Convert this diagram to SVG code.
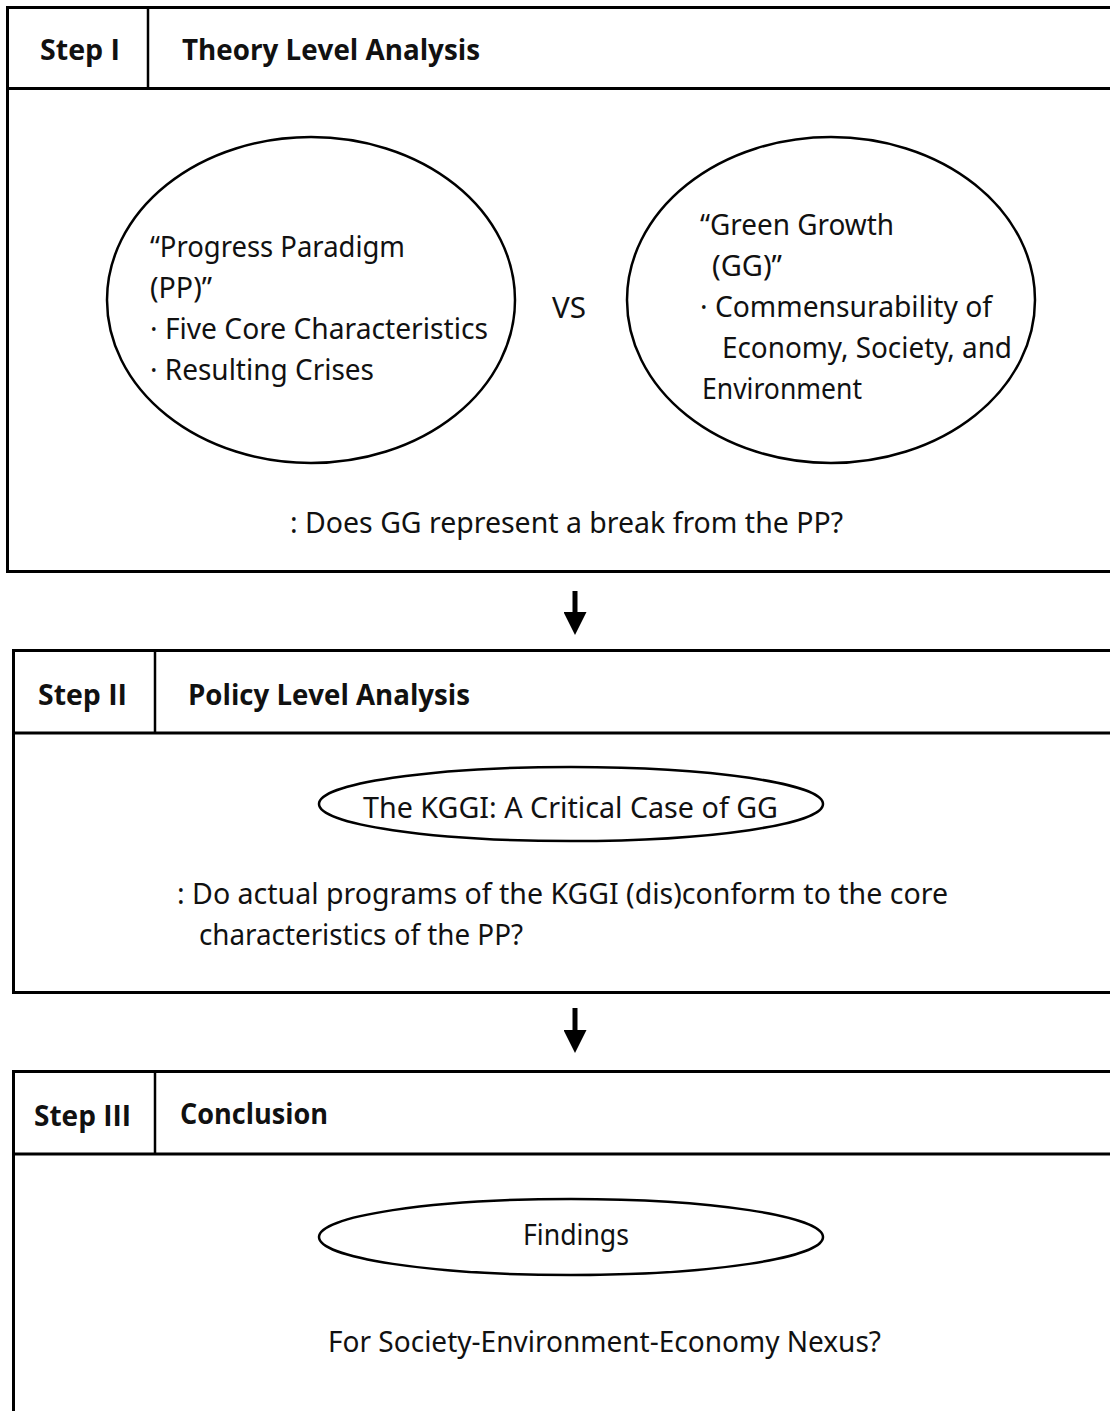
<svg xmlns="http://www.w3.org/2000/svg" width="1110" height="1411" viewBox="0 0 1110 1411">
  <style>
    .frame { fill: none; stroke: #000; stroke-width: 3; }
    .rule { stroke: #000; stroke-width: 3; }
    .sep { stroke: #000; stroke-width: 2.5; }
    .oval { fill: none; stroke: #000; stroke-width: 2.5; }
    .hd { font-family: "Open Sans", "Noto Sans", sans-serif; font-weight: bold; font-size: 29px; fill: #111; }
    .tx { font-family: "Noto Sans", "Open Sans", sans-serif; font-size: 29px; fill: #111; }
    .link { stroke: #000; stroke-width: 5; }
  </style>
  <defs>
    <marker id="head" viewBox="0 0 10 10" refX="0" refY="5" markerWidth="5.2" markerHeight="4.6" markerUnits="strokeWidth" orient="auto">
      <path d="M0,0 L10,5 L0,10 Z" fill="#000"/>
    </marker>
  </defs>
  <rect width="1110" height="1411" fill="#fff"/>

  <!-- Step I: theory level -->
  <g id="step1">
    <rect class="frame" x="7.5" y="7.5" width="1110" height="564"/>
    <line class="rule" x1="7" y1="88.5" x2="1110" y2="88.5"/>
    <line class="sep" x1="148" y1="7" x2="148" y2="88"/>
    <text class="hd" x="40" y="60" textLength="80" lengthAdjust="spacingAndGlyphs">Step I</text>
    <text class="hd" x="182" y="60" textLength="298" lengthAdjust="spacingAndGlyphs">Theory Level Analysis</text>
    <text class="tx" x="290" y="533" textLength="553" lengthAdjust="spacingAndGlyphs">: Does GG represent a break from the PP?</text>
  </g>

  <g id="pp">
    <ellipse class="oval" cx="311" cy="300" rx="204" ry="163"/>
    <text class="tx" x="150" y="257" textLength="255" lengthAdjust="spacingAndGlyphs">“Progress Paradigm</text>
    <text class="tx" x="150" y="298" textLength="62" lengthAdjust="spacingAndGlyphs">(PP)”</text>
    <text class="tx" x="150" y="339" textLength="338" lengthAdjust="spacingAndGlyphs">· Five Core Characteristics</text>
    <text class="tx" x="150" y="380" textLength="224" lengthAdjust="spacingAndGlyphs">· Resulting Crises</text>
  </g>

  <g id="vs">
    <text class="tx" x="552" y="318" textLength="34" lengthAdjust="spacingAndGlyphs">VS</text>
  </g>

  <g id="gg">
    <ellipse class="oval" cx="831" cy="300" rx="204" ry="163"/>
    <text class="tx" x="700" y="235" textLength="194" lengthAdjust="spacingAndGlyphs">“Green Growth</text>
    <text class="tx" x="712" y="276" textLength="70" lengthAdjust="spacingAndGlyphs">(GG)”</text>
    <text class="tx" x="700" y="317" textLength="292" lengthAdjust="spacingAndGlyphs">· Commensurability of</text>
    <text class="tx" x="722" y="358" textLength="290" lengthAdjust="spacingAndGlyphs">Economy, Society, and</text>
    <text class="tx" x="702" y="399" textLength="160" lengthAdjust="spacingAndGlyphs">Environment</text>
  </g>

  <!-- Step II: policy level -->
  <g id="step2">
    <rect class="frame" x="13.5" y="650.5" width="1110" height="342"/>
    <line class="rule" x1="13" y1="733" x2="1110" y2="733"/>
    <line class="sep" x1="155" y1="650" x2="155" y2="733"/>
    <text class="hd" x="38" y="705" textLength="89" lengthAdjust="spacingAndGlyphs">Step II</text>
    <text class="hd" x="188" y="705" textLength="282" lengthAdjust="spacingAndGlyphs">Policy Level Analysis</text>
    <text class="tx" x="177" y="904" textLength="771" lengthAdjust="spacingAndGlyphs">: Do actual programs of the KGGI (dis)conform to the core</text>
    <text class="tx" x="199" y="945" textLength="324" lengthAdjust="spacingAndGlyphs">characteristics of the PP?</text>
  </g>

  <g id="kggi">
    <ellipse class="oval" cx="571" cy="804" rx="252" ry="37"/>
    <text class="tx" x="363" y="818" textLength="415" lengthAdjust="spacingAndGlyphs">The KGGI: A Critical Case of GG</text>
  </g>

  <!-- Step III: conclusion -->
  <g id="step3">
    <rect class="frame" x="13.5" y="1071.5" width="1110" height="360"/>
    <line class="rule" x1="13" y1="1154" x2="1110" y2="1154"/>
    <line class="sep" x1="155" y1="1071" x2="155" y2="1154"/>
    <text class="hd" x="34" y="1126" textLength="97" lengthAdjust="spacingAndGlyphs">Step III</text>
    <text class="hd" x="180" y="1124" textLength="148" lengthAdjust="spacingAndGlyphs">Conclusion</text>
    <text class="tx" x="328" y="1352" textLength="553" lengthAdjust="spacingAndGlyphs">For Society-Environment-Economy Nexus?</text>
  </g>

  <g id="findings">
    <ellipse class="oval" cx="571" cy="1237" rx="252" ry="38"/>
    <text class="tx" x="523" y="1245" textLength="106" lengthAdjust="spacingAndGlyphs">Findings</text>
  </g>

  <!-- flow arrows between steps -->
  <g id="connectors">
    <line class="link" x1="575" y1="591" x2="575" y2="612" marker-end="url(#head)"/>
    <line class="link" x1="575" y1="1008" x2="575" y2="1030" marker-end="url(#head)"/>
  </g>
</svg>
